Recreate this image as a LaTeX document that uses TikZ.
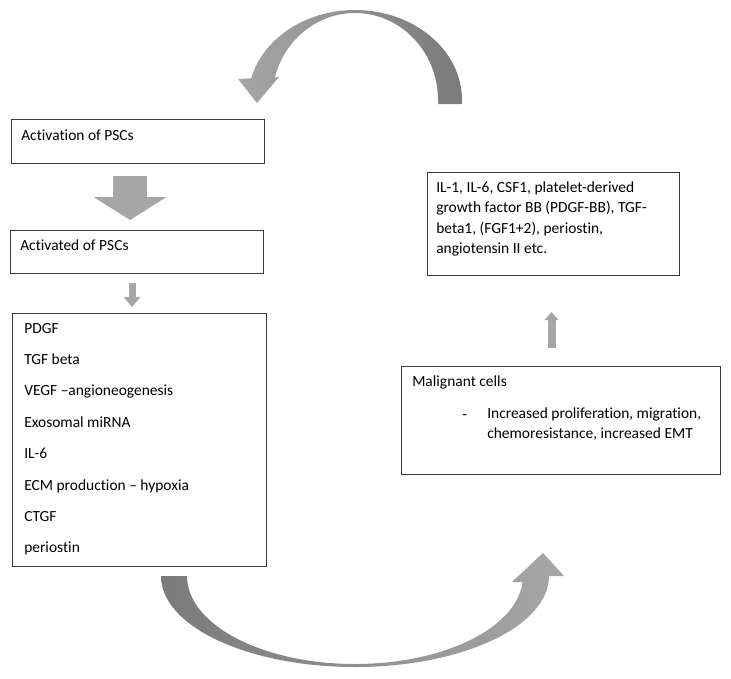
\documentclass[tikz,border=0pt]{standalone}
\usepackage{fontspec}
\setmainfont{Carlito}[Ligatures=CommonOff]
\usetikzlibrary{calc,arrows.meta,positioning}

\definecolor{arrowgray}{HTML}{A6A6A6}
\definecolor{arcdark}{HTML}{7A7A7A}
\definecolor{boxline}{HTML}{3A3A3A}

\tikzset{
  box/.style={draw=boxline, line width=0.8pt, anchor=north west, inner sep=0pt},
  txt/.style={anchor=base west, inner sep=0pt, font=\fontsize{11.6}{15.2}\selectfont},
  blockarrow/.style n args={3}{arrowgray, line width=#1,
    -{Triangle[width=#2, length=#3, line width=0pt]}}
}

\begin{document}
\begin{tikzpicture}[x=0.75pt, y=0.75pt]
  \useasboundingbox (0,0) rectangle (731,-678);

  % boxes
  \node[box, minimum width=189.75pt, minimum height=33pt] (act) at (11,-119) {};
  \node[box, minimum width=189.75pt, minimum height=32.25pt] (actd) at (10,-230) {};
  \node[box, minimum width=190.5pt, minimum height=189.75pt] (fact) at (12,-313) {};
  \node[box, minimum width=189pt, minimum height=77.25pt] (cyto) at (427,-172) {};
  \node[box, minimum width=239.25pt, minimum height=81pt] (mal) at (401,-366) {};

  % texts
  \node[txt] (actt) at ($(act.north west)+(10,-21)$) {Activation of PSCs};
  \node[txt] (actdt) at ($(actd.north west)+(10,-20)$) {Activated of PSCs};
  \foreach \item [count=\i] in {PDGF, TGF beta, VEGF –angioneogenesis,
      Exosomal miRNA, IL-6, ECM production – hypoxia, CTGF, periostin}
    \node[txt] (fac\i) at ($(fact.north west)+(12,{-20-31.4*(\i-1)})$) {\item};
  \node[txt, anchor=north west, align=left] (cytot) at ($(cyto.north west)+(9,-9.5)$)
    {IL-1, IL-6, CSF1, platelet-derived\\
     growth factor BB (PDGF-BB), TGF-\\
     beta1, (FGF1+2), periostin,\\
     angiotensin II etc.};
  \node[txt] (malt) at ($(mal.north west)+(11,-20)$) {Malignant cells};
  \node[txt] (dash) at ($(mal.north west)+(61,-53)$) {-};
  \node[txt, anchor=north west, align=left] (malx) at ($(mal.north west)+(86,-41.5)$)
    {Increased proliferation, migration,\\
     chemoresistance, increased EMT};

  % straight block arrows
  \draw[blockarrow={25.5pt}{54.75pt}{17.25pt}]
    ($(act.south)+(-8,-12)$) -- ($(actd.north)+(-7,10)$);
  \draw[blockarrow={5.25pt}{12.75pt}{7.5pt}]
    ($(actd.south)+(-5,-9)$) -- ($(fact.north)+(-7.5,6)$);
  \draw[blockarrow={6pt}{10.5pt}{6pt}]
    ($(mal.north)+(-9.5,18)$) -- ($(cyto.south)+(-2,-36)$);

  % curved arrows
  \coordinate (topc) at (355,-100);
  \coordinate (botc) at (355,-576);
  \shade[left color=arrowgray, right color=arcdark]
    ($(topc)+(107,-4)$) -- ($(topc)+(107,0)$)
    arc[start angle=0, end angle=166, x radius=107, y radius=90]
    -- (238,-79) -- (257,-103) -- (279,-77)
    -- ($(topc)+(165:83 and 87)$)
    arc[start angle=165, end angle=0, x radius=83, y radius=87]
    -- ($(topc)+(83,-4)$) -- cycle;
  \shade[left color=arcdark, right color=arrowgray]
    ($(botc)+(-194,0)$)
    arc[start angle=180, end angle=360, x radius=194, y radius=91]
    -- (564,-576) -- (543,-553) -- (512,-582)
    -- ($(botc)+(356:168 and 88)$)
    arc[start angle=356, end angle=180, x radius=168, y radius=88]
    -- cycle;
\end{tikzpicture}
\end{document}
